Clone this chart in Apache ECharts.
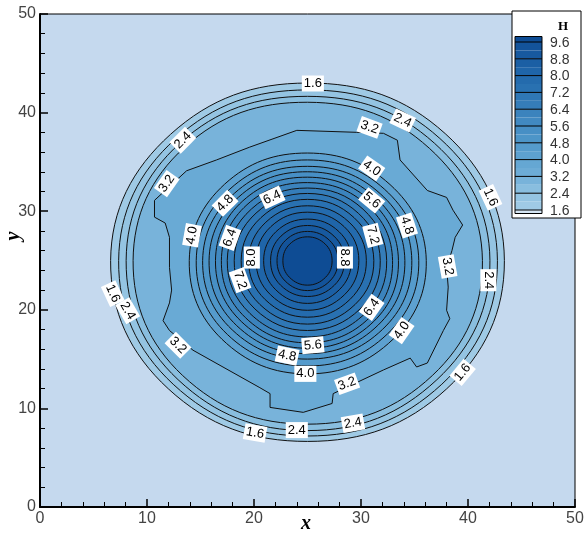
<!DOCTYPE html>
<html>
<head>
<meta charset="utf-8">
<script src="https://cdn.jsdelivr.net/npm/echarts@6/dist/echarts.min.js"></script>
<style>html,body{margin:0;padding:0;background:#fff;}#c{width:585px;height:541px;}</style>
</head>
<body>
<div id="c"></div>
<script>
// ---- DATA ----
const xTicks = [0, 10, 20, 30, 40, 50];
const yTicks = [0, 10, 20, 30, 40, 50];
// colour-scale levels (legend), step 0.4
const levels = [1.6, 2.0, 2.4, 2.8, 3.2, 3.6, 4.0, 4.4, 4.8, 5.2, 5.6, 6.0, 6.4, 6.8, 7.2, 7.6, 8.0, 8.4, 8.8, 9.2, 9.6];
// contour lines drawn in the plot
const contourLevels = [1.6, 2.0, 2.4, 2.8, 3.2, 4.0, 4.4, 4.8, 5.2, 5.6, 6.0, 6.4, 6.8, 7.2, 7.6, 8.0, 8.4, 8.8, 9.2, 9.6];
const legendLabels = [9.6, 8.8, 8.0, 7.2, 6.4, 5.6, 4.8, 4.0, 3.2, 2.4, 1.6];
const center = [25, 25];
// contour radii (data units) along directions E, NE, N, NW, W, SW, S, SE
const dirs = [0, 45, 90, 135, 180, 225, 270, 315];
const radii = {
  '1.6': [18.4, 18.2, 18.0, 18.1, 18.4, 18.4, 18.35, 18.4],
  '2.0': [17.75, 17.5, 17.3, 17.45, 17.65, 17.75, 17.8, 17.75],
  '2.4': [17.05, 16.8, 16.65, 16.85, 16.95, 17.1, 17.25, 17.1],
  '2.8': [16.35, 16.1, 16.05, 16.25, 16.3, 16.5, 16.6, 16.5],
  '4.0': [11.1, 10.9, 10.9, 10.95, 11.05, 11.3, 11.5, 11.3],
  '4.4': [10.4, 10.2, 10.2, 10.25, 10.4, 10.6, 10.7, 10.55],
  '4.8': [9.75, 9.6, 9.55, 9.65, 9.8, 9.95, 10.0, 9.9],
  '5.2': [9.1, 9.0, 9.0, 9.1, 9.2, 9.35, 9.45, 9.3],
  '5.6': [8.5, 8.45, 8.45, 8.55, 8.6, 8.75, 8.9, 8.75],
  '6.0': [7.95, 7.9, 7.9, 8.0, 8.05, 8.2, 8.35, 8.2],
  '6.4': [7.4, 7.35, 7.35, 7.4, 7.5, 7.6, 7.75, 7.6],
  '6.8': [6.8, 6.75, 6.8, 6.8, 6.85, 6.95, 7.1, 6.95],
  '7.2': [6.2, 6.15, 6.2, 6.15, 6.2, 6.3, 6.45, 6.3],
  '7.6': [5.5, 5.5, 5.55, 5.5, 5.5, 5.6, 5.75, 5.6],
  '8.0': [4.8, 4.85, 4.9, 4.85, 4.8, 4.9, 5.05, 4.9],
  '8.4': [4.1, 4.15, 4.2, 4.15, 4.1, 4.2, 4.35, 4.2],
  '8.8': [3.45, 3.5, 3.55, 3.5, 3.45, 3.55, 3.65, 3.55],
  '9.2': [2.85, 2.9, 2.95, 2.9, 2.85, 2.95, 3.05, 2.95],
  '9.6': [2.3, 2.35, 2.4, 2.35, 2.3, 2.4, 2.5, 2.4]
};
// the irregular 3.2 contour, traced point by point [x, y]
const contour32 = [
  [24.0, 38.2], [29.6, 38.0], [32.1, 37.9], [33.4, 37.2], [33.65, 35.2], [36.2, 32.1],
  [38.0, 31.4], [38.6, 30.1], [39.5, 28.6], [38.8, 27.35], [38.5, 26.0], [38.0, 24.3],
  [38.15, 22.3], [38.0, 19.95], [38.3, 19.1], [37.7, 17.9], [36.2, 14.6], [35.2, 14.2],
  [34.6, 15.1], [32.1, 13.9], [27.4, 11.5], [27.3, 10.5], [24.6, 9.6], [21.5, 10.1],
  [21.5, 11.5], [20.55, 12.1], [14.3, 15.9], [12.1, 17.9], [11.5, 18.9], [12.1, 20.7],
  [12.3, 22.0], [12.1, 24.3], [12.1, 27.35], [11.7, 28.8], [10.7, 29.4], [10.7, 31.1],
  [11.4, 31.8], [13.7, 34.1], [16.5, 35.2], [19.6, 36.5]
];
// contour labels: [x, y, text, angle in degrees]
const contourLabels = [
  [25.5, 42.95, '1.6', 0], [33.9, 39.2, '2.4', -25], [30.8, 38.5, '3.2', -20],
  [13.35, 37.2, '2.4', 45], [11.85, 32.8, '3.2', 55], [31.0, 34.35, '4.0', -35],
  [21.7, 31.4, '6.4', 25], [17.3, 30.8, '4.8', 45], [31.0, 31.1, '5.6', -40],
  [34.3, 28.55, '4.8', -72], [14.2, 27.55, '4.0', 80], [17.75, 27.3, '6.4', 70],
  [31.1, 27.55, '7.2', -75], [19.8, 25.3, '8.0', 90], [18.7, 23.0, '7.2', -70],
  [28.5, 25.3, '8.8', -90], [31.0, 20.25, '6.4', 55], [33.8, 17.9, '4.0', 55],
  [12.9, 16.4, '3.2', -45], [25.5, 16.4, '5.6', 5], [23.1, 15.35, '4.8', -12],
  [24.8, 13.5, '4.0', 0], [28.7, 12.5, '3.2', 20], [24.0, 7.8, '2.4', 0],
  [29.25, 8.5, '2.4', 10], [20.1, 7.5, '1.6', -10], [42.1, 31.4, '1.6', -65],
  [38.1, 24.4, '3.2', -80], [41.9, 23.0, '2.4', -90], [39.5, 13.65, '1.6', 50],
  [6.8, 21.65, '1.6', -65], [8.2, 19.9, '2.4', -60]
];

// ---- STYLE ----
const bgColor = '#c5d9ee';
const bandColors = ['#9fcae5', '#94c4e2', '#89bedf', '#78b3da', '#6dacd6', '#65a7d3',
  '#5da1d0', '#559bcc', '#4d95c8', '#478fc5', '#4189c1', '#3b83bd', '#357db9', '#2f77b5',
  '#2971b1', '#246bad', '#1f65a9', '#1b5fa4', '#17599f', '#13539a', '#0e4c94'];
function bandColorOf(lv) {
  if (Math.abs(lv - 3.2) < 1e-6) return '#69aad5';
  return bandColors[levels.findIndex(l => Math.abs(l - lv) < 1e-6)];
}

const chart = echarts.init(document.getElementById('c'), null, {renderer: 'canvas'});

function contourPoints(lv) {
  const key = lv.toFixed(1);
  if (key === '3.2') return contour32;
  const r = radii[key];
  return dirs.map((d, k) => [center[0] + r[k] * Math.cos(d * Math.PI / 180),
                             center[1] + r[k] * Math.sin(d * Math.PI / 180)]);
}

// legend graphic
const lg = {x0: 515, x1: 542, top96: 42, step04: 8.4};
const legendEls = [];
legendEls.push({type: 'rect', shape: {x: 512, y: 11, width: 69, height: 207}, style: {fill: '#fff', stroke: '#000', lineWidth: 1}, z: 100});
legendEls.push({type: 'text', x: 563, y: 27, style: {text: 'H', font: 'bold 13px "Liberation Serif"', fill: '#000', align: 'center', verticalAlign: 'middle'}, z: 101});
const y16 = lg.top96 + (levels.length - 1) * lg.step04;
legendEls.push({type: 'rect', shape: {x: lg.x0, y: y16, width: lg.x1 - lg.x0, height: 3.5}, style: {fill: '#d6e6f4'}, z: 101});
for (let i = 0; i < levels.length; i++) {
  const yTop = i === levels.length - 1 ? 36.5 : lg.top96 + (levels.length - 2 - i) * lg.step04;
  const yBot = lg.top96 + (levels.length - 1 - i) * lg.step04;
  legendEls.push({type: 'rect', shape: {x: lg.x0, y: yTop, width: lg.x1 - lg.x0, height: yBot - yTop}, style: {fill: bandColors[i]}, z: 101});
}
legendEls.push({type: 'rect', shape: {x: lg.x0, y: 36.5, width: lg.x1 - lg.x0, height: y16 + 3.5 - 36.5}, style: {fill: 'none', stroke: '#000', lineWidth: 1}, z: 102});
legendLabels.forEach(v => {
  const idx = levels.findIndex(l => Math.abs(l - v) < 1e-6);
  const y = lg.top96 + (levels.length - 1 - idx) * lg.step04;
  legendEls.push({type: 'line', shape: {x1: lg.x0, y1: y, x2: lg.x1, y2: y}, style: {stroke: '#000', lineWidth: 1}, z: 102});
  legendEls.push({type: 'text', x: 550, y: y + 1, style: {text: v.toFixed(1), font: '14px "Liberation Sans"', fill: '#333', align: 'left', verticalAlign: 'middle'}, z: 102});
});
// axis titles
legendEls.push({type: 'text', x: 14, y: 236, rotation: Math.PI / 2,
  style: {text: 'y', font: 'italic bold 20px "Liberation Serif"', fill: '#000', align: 'center', verticalAlign: 'middle'}, z: 50});
legendEls.push({type: 'text', x: 306, y: 524,
  style: {text: 'x', font: 'italic bold 20px "Liberation Serif"', fill: '#000', align: 'center', verticalAlign: 'middle'}, z: 50});

const option = {
  animation: false,
  grid: {left: 40, right: 10, top: 14, bottom: 34, containLabel: false, outerBoundsMode: 'none',
         show: true, backgroundColor: bgColor, borderColor: '#000', borderWidth: 1},
  xAxis: {
    type: 'value', min: xTicks[0], max: xTicks[xTicks.length - 1], interval: 10,
    axisLine: {show: true, lineStyle: {color: '#000', width: 2}},
    axisTick: {inside: true, length: 8, lineStyle: {color: '#000', width: 1.5}},
    minorTick: {show: true, splitNumber: 5, length: 5, lineStyle: {color: '#000', width: 1}},
    axisLabel: {fontFamily: 'Liberation Sans', fontSize: 16, color: '#444', margin: 4},
    splitLine: {show: false}
  },
  yAxis: {
    type: 'value', min: yTicks[0], max: yTicks[yTicks.length - 1], interval: 10,
    axisLine: {show: true, lineStyle: {color: '#000', width: 2}},
    axisTick: {inside: true, length: 8, lineStyle: {color: '#000', width: 1.5}},
    minorTick: {show: true, splitNumber: 5, length: 5, lineStyle: {color: '#000', width: 1}},
    axisLabel: {fontFamily: 'Liberation Sans', fontSize: 16, color: '#444', margin: 4},
    splitLine: {show: false}
  },
  series: [
    {
      type: 'custom', coordinateSystem: 'cartesian2d', clip: true, z: 2,
      data: contourLevels.map(lv => [center[0], center[1], lv]),
      encode: {x: 0, y: 1},
      renderItem: function (params, api) {
        const lv = api.value(2);
        const pts = contourPoints(lv).map(p => api.coord(p));
        return {
          type: 'polygon',
          shape: {points: pts, smooth: Math.abs(lv - 3.2) < 1e-6 ? 0 : 0.4},
          style: {fill: bandColorOf(lv), stroke: '#111', lineWidth: 1}
        };
      }
    },
    {
      type: 'custom', coordinateSystem: 'cartesian2d', z: 5,
      data: contourLabels.map(l => [l[0], l[1], l[3]]),
      encode: {x: 0, y: 1},
      renderItem: function (params, api) {
        const p = api.coord([api.value(0), api.value(1)]);
        const lab = contourLabels[params.dataIndex];
        return {
          type: 'text', x: p[0], y: p[1], rotation: lab[3] * Math.PI / 180,
          style: {text: lab[2], font: '13px "Liberation Sans"', fill: '#000', align: 'center', verticalAlign: 'middle',
                  backgroundColor: '#fff', padding: [2, 2, 1, 2]}
        };
      }
    }
  ],
  graphic: {elements: legendEls}
};
chart.setOption(option);
</script>
</body>
</html>
